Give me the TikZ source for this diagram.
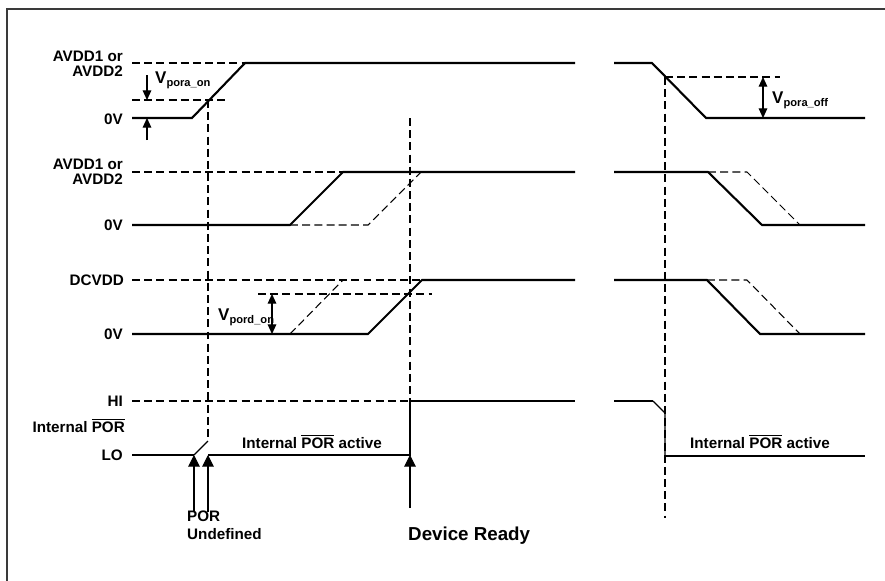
\documentclass[tikz,border=0pt]{standalone}
\usepackage{fontspec}
\setmainfont{Liberation Sans}
\usetikzlibrary{arrows.meta, positioning, calc}
\definecolor{sigDark}{HTML}{000000}
\definecolor{frameGray}{HTML}{3A3A3A}
\newcommand\lblfont{\bfseries\fontsize{13}{13.2}\selectfont}
\newcommand\vsub[1]{{\fontsize{14.5}{14.5}\selectfont V}\raisebox{-2.9pt}{\fontsize{9.5}{9.5}\selectfont #1}}
\tikzset{
  wave/.style={line width=1.8pt, sigDark, line join=miter},
  waveThin/.style={line width=1pt, sigDark},
  waveD/.style={line width=0.9pt, sigDark, dash pattern=on 6.8pt off 3.6pt},
  arrowUp/.style={-{Triangle[length=3.5mm, width=3.5mm]}, line width=0.9pt, sigDark},
  arrowDim/.style={{Triangle[length=2.9mm, width=2.6mm]}-{Triangle[length=2.9mm, width=2.6mm]},
                   line width=0.9pt, sigDark},
  arrowIn/.style={-{Triangle[length=2.9mm, width=2.6mm]}, line width=0.9pt, sigDark},
  lvl/.style={anchor=east, inner sep=0pt, align=right, font=\lblfont},
  txt/.style={inner sep=0pt, font=\lblfont},
}

\begin{document}
\begin{tikzpicture}[x=0.03cm, y=-0.03cm]
  \useasboundingbox (0,0) rectangle (885,581);
  \draw[line width=1.4pt, frameGray] (7,581) -- (7,9) -- (885,9);

  \node[lvl] (avddA) at (123,64) {AVDD1 or\\AVDD2};
  \node[lvl] (zeroA) at (123,119) {0V};
  \node[lvl] (avddB) at (123,172) {AVDD1 or\\AVDD2};
  \node[lvl] (zeroB) at (123,225) {0V};
  \node[lvl] (dcvdd) at (124,280) {DCVDD};
  \node[lvl] (zeroC) at (123,334) {0V};
  \node[lvl] (hi) at (123,401) {HI};
  \node[lvl] (lo) at (123,455) {LO};
  \node[txt, anchor=base east] (intpor) at (125,432) {Internal $\overline{\mbox{POR}}$};

  \draw[waveD] (132,63) -- (245,63);
  \draw[waveD] (132,100) -- (226,100);
  \draw[wave] (132,118) -- (192,118) -- (245,63) -- (575,63);
  \draw[arrowIn] (147,75) -- (147,100);
  \draw[arrowIn] (147,140) -- (147,118);
  \node[txt, anchor=base west] (vpon) at (155,83) {\vsub{pora\_on}};

  \draw[waveD] (665,77) -- (780,77);
  \draw[wave] (614,63) -- (652,63) -- (706,118) -- (865,118);
  \draw[arrowDim] (763,77) -- (763,118);
  \node[txt, anchor=base west] (vpoff) at (772,103) {\vsub{pora\_off}};

  \draw[waveD] (132,172) -- (343,172);
  \draw[waveD] (290,225) -- (368,225) -- (421,172);
  \draw[wave] (132,225) -- (290,225) -- (343,172) -- (575,172);
  \draw[waveD] (708,172) -- (747,172) -- (800,225);
  \draw[wave] (614,172) -- (708,172) -- (762,225) -- (865,225);

  \draw[waveD] (132,280) -- (422,280);
  \draw[waveD] (290,334) -- (343,280);
  \draw[waveD] (258,294) -- (432,294);
  \draw[wave] (132,334) -- (368,334) -- (422,280) -- (575,280);
  \draw[arrowDim] (272,294) -- (272,334);
  \node[txt, anchor=base west] (vpdon) at (218,320) {\vsub{pord\_on}};
  \draw[waveD] (707,280) -- (747,280) -- (800,334);
  \draw[wave] (614,280) -- (707,280) -- (760,334) -- (865,334);

  \draw[waveD] (132,401) -- (410,401);
  \draw[wave] (132,455) -- (194,455);
  \draw[waveThin] (194,455) -- (208,441);
  \draw[wave] (208,455) -- (410,455) -- (410,401) -- (575,401);
  \node[txt, anchor=base] (activeA) at (312,448) {Internal $\overline{\mbox{POR}}$ active};
  \draw[wave] (614,401) -- (653,401);
  \draw[waveThin] (653,401) -- (665,413) -- (665,456);
  \draw[wave] (665,456) -- (865,456);
  \node[txt, anchor=base] (activeB) at (760,448) {Internal $\overline{\mbox{POR}}$ active};

  \draw[waveD] (208,100) -- (208,441);
  \draw[waveD] (410,118) -- (410,401);
  \draw[waveD] (665,77) -- (665,518);

  \draw[arrowUp] (194,512) -- (194,455);
  \draw[arrowUp] (208,512) -- (208,455);
  \draw[arrowUp] (410,508) -- (410,455);
  \node[txt, anchor=base west, align=left] (undef) at (187,539) {POR\\[2pt]Undefined};
  \node[txt, anchor=base west, font=\bfseries\fontsize{16}{19}\selectfont] (ready) at (408,540) {Device Ready};
\end{tikzpicture}
\end{document}
